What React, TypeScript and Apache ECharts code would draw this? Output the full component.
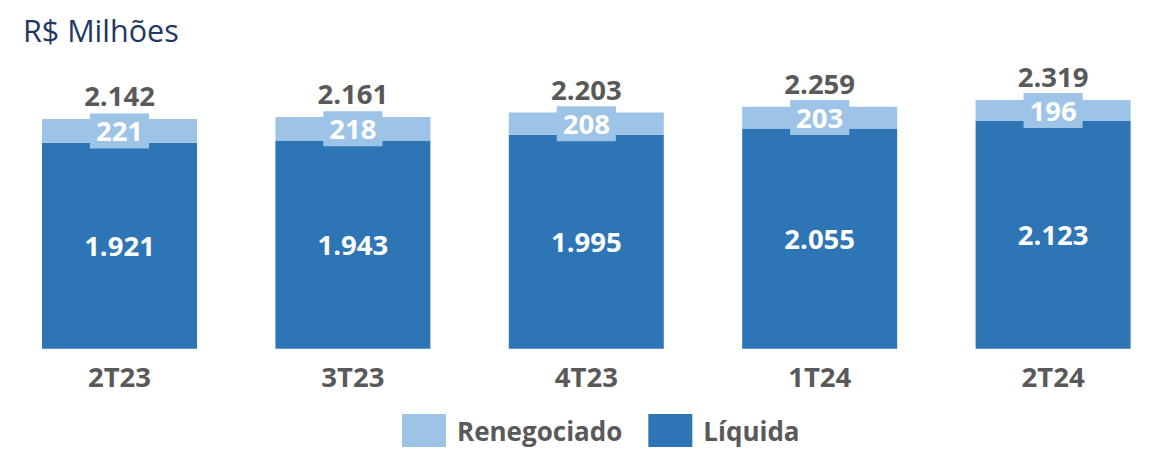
import React, { useEffect, useRef } from "react";
import * as echarts from "echarts";

const categories = ["2T23", "3T23", "4T23", "1T24", "2T24"];
const liquida = [1921, 1943, 1995, 2055, 2123];
const renegociado = [221, 218, 208, 203, 196];
const totals = [2142, 2161, 2203, 2259, 2319];
const totalBase = [0, 0, 0, 0, 0];

const FONT = "'Open Sans', 'Noto Sans', sans-serif";
const GRAY = "#595959";
const DARK = "#2E75B6";
const LIGHT = "#9DC3E6";

function fmt(n: number): string {
  return String(n).replace(/\B(?=(\d{3})+(?!\d))/g, ".");
}

export default function App() {
  const ref = useRef<HTMLDivElement>(null);
  useEffect(() => {
    if (!ref.current) return;
    const chart = echarts.init(ref.current, null, { renderer: "svg" });
    chart.setOption({
      animation: false,
      backgroundColor: "#ffffff",
      textStyle: { fontFamily: FONT },
      title: {
        text: "R$ Milhões",
        left: 18,
        top: 9,
        textStyle: { fontFamily: FONT, fontSize: 30.5, fontWeight: "normal", color: "#1F3864" },
      },
      legend: {
        data: ["Renegociado", "Líquida"],
        left: 397,
        top: 409,
        icon: "rect",
        itemWidth: 44,
        itemHeight: 33,
        itemGap: 26,
        textStyle: { fontFamily: FONT, fontSize: 26, fontWeight: "bold", color: GRAY, padding: [0, 0, 0, 6] },
      },
      grid: { left: 2.8, width: 1167, top: 80.7, bottom: 106.3, outerBoundsMode: "none", containLabel: false },
      xAxis: {
        type: "category",
        data: categories,
        axisLine: { show: false },
        axisTick: { show: false },
        axisLabel: { margin: 14, fontFamily: FONT, fontSize: 27.5, fontWeight: "bold", color: GRAY },
      },
      yAxis: {
        type: "value",
        min: 0,
        max: 2500,
        show: false,
        splitLine: { show: false },
      },
      series: [
        {
          name: "Líquida",
          type: "bar",
          stack: "a",
          barWidth: 155,
          data: liquida,
          itemStyle: { color: DARK },
          label: {
            show: true,
            position: "inside",
            formatter: (p: any) => fmt(p.value),
            fontFamily: FONT,
            fontSize: 27.5,
            fontWeight: "bold",
            color: "#ffffff",
          },
        },
        {
          name: "Renegociado",
          type: "bar",
          stack: "a",
          barWidth: 155,
          data: renegociado,
          itemStyle: { color: LIGHT },
          label: {
            show: true,
            position: "inside",
            formatter: (p: any) => fmt(p.value),
            fontFamily: FONT,
            fontSize: 27.5,
            fontWeight: "bold",
            color: "#ffffff",
            backgroundColor: LIGHT,
            lineHeight: 27,
            padding: [4, 6, 4, 6],
          },
        },
        {
          name: "Total",
          type: "bar",
          stack: "a",
          barWidth: 155,
          data: totalBase,
          itemStyle: { color: "rgba(0,0,0,0)" },
          silent: true,
          label: {
            show: true,
            position: "top",
            distance: 10,
            formatter: (p: any) => fmt(totals[p.dataIndex]),
            fontFamily: FONT,
            fontSize: 27.5,
            fontWeight: "bold",
            color: GRAY,
            lineHeight: 27,
          },
        },
      ],
    });
    return () => chart.dispose();
  }, []);
  return (
    <div
      ref={ref}
      style={{ position: "absolute", left: 0, top: 0, width: 1153, height: 455 }}
    />
  );
}
